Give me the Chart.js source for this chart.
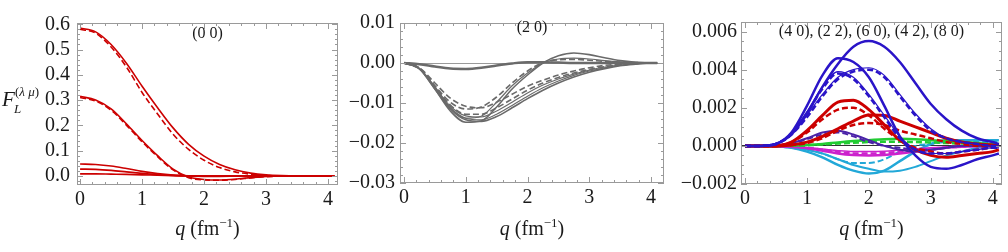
<!DOCTYPE html>
<html>
<head>
<meta charset="utf-8">
<script src="https://cdn.jsdelivr.net/npm/chart.js@4"></script>
<style>
  html, body { margin: 0; padding: 0; background: #fff; }
  #wrap { position: relative; width: 1008px; height: 252px; }
  canvas { position: absolute; top: 0; }
</style>
</head>
<body>
<div id="wrap">
  <canvas id="c1" width="342" height="252" style="left:0px"></canvas>
  <canvas id="c2" width="326" height="252" style="left:342px"></canvas>
  <canvas id="c3" width="340" height="252" style="left:668px"></canvas>
</div>
<script>
// momentum transfer q (fm^-1), shared by every curve
const qs = [0, 0.25, 0.5, 0.75, 1, 1.25, 1.5, 1.75, 2, 2.25, 2.5, 2.75, 3, 3.25, 3.5, 3.75, 4, 4.1];

const xTicks = [0, 1, 2, 3, 4];
const yTicks1 = [0, 0.1, 0.2, 0.3, 0.4, 0.5, 0.6];
const yTicks2 = [-0.03, -0.02, -0.01, 0, 0.01];
const yTicks3 = [-0.002, 0, 0.002, 0.004, 0.006];

// (0 0) panel
const p1Solid0 = [0.585, 0.570, 0.520, 0.445, 0.355, 0.270, 0.190, 0.125, 0.078, 0.045, 0.024, 0.011, 0.004, 0.001, 0, 0, 0, 0];
const p1Dash0  = [0.580, 0.565, 0.510, 0.430, 0.330, 0.245, 0.165, 0.105, 0.062, 0.033, 0.016, 0.007, 0.002, 0, 0, 0, 0, 0];
const p1Solid1 = [0.315, 0.300, 0.265, 0.205, 0.140, 0.080, 0.027, -0.004, -0.014, -0.016, -0.013, -0.007, -0.002, 0, 0, 0, 0, 0];
const p1Dash1  = [0.310, 0.296, 0.260, 0.200, 0.135, 0.076, 0.024, -0.007, -0.016, -0.017, -0.014, -0.008, -0.003, -0.001, 0, 0, 0, 0];
const p1Small0 = [0.047, 0.045, 0.039, 0.029, 0.018, 0.009, 0.003, 0, -0.002, -0.002, -0.001, 0, 0, 0, 0, 0, 0, 0];
const p1Small1 = [0.027, 0.026, 0.022, 0.016, 0.010, 0.005, 0.002, 0, -0.001, -0.001, 0, 0, 0, 0, 0, 0, 0, 0];
const p1Small2 = [0.008, 0.008, 0.007, 0.006, 0.004, 0.003, 0.001, 0, 0, 0, 0, 0, 0, 0, 0, 0, 0, 0];

// (2 0) panel
const p2Flat     = [0, -0.0003, -0.0009, -0.0014, -0.0015, -0.0012, -0.0006, -0.0001, 0.0002, 0.0002, 0.0001, 0, 0, 0, 0, 0, 0, 0];
const p2FastA    = [0, -0.0015, -0.0065, -0.0120, -0.0148, -0.0145, -0.0110, -0.0065, -0.0030, 0.0000, 0.0018, 0.0025, 0.0021, 0.0013, 0.0006, 0.0002, 0, 0];
const p2FastB    = [0, -0.0014, -0.0060, -0.0113, -0.0138, -0.0133, -0.0098, -0.0057, -0.0025, 0.0000, 0.0010, 0.0012, 0.0010, 0.0006, 0.0003, 0.0001, 0, 0];
const p2FastDash = [0, -0.0013, -0.0057, -0.0098, -0.0115, -0.0110, -0.0085, -0.0050, -0.0020, 0.0001, 0.0008, 0.0009, 0.0007, 0.0004, 0.0002, 0.0001, 0, 0];
const p2SlowDashA = [0, -0.0012, -0.0050, -0.0088, -0.0108, -0.0112, -0.0098, -0.0078, -0.0058, -0.0043, -0.0030, -0.0020, -0.0012, -0.0006, -0.0003, -0.0001, 0, 0];
const p2SlowDashB = [0, -0.0013, -0.0058, -0.0105, -0.0128, -0.0128, -0.0112, -0.0090, -0.0068, -0.0050, -0.0036, -0.0025, -0.0016, -0.0009, -0.0004, -0.0001, 0, 0];
const p2SlowA    = [0, -0.0013, -0.0060, -0.0108, -0.0132, -0.0135, -0.0120, -0.0098, -0.0075, -0.0055, -0.0040, -0.0028, -0.0018, -0.0010, -0.0005, -0.0002, 0, 0];
const p2SlowB    = [0, -0.0014, -0.0062, -0.0112, -0.0138, -0.0142, -0.0128, -0.0106, -0.0083, -0.0062, -0.0045, -0.0031, -0.0020, -0.0012, -0.0006, -0.0002, 0, 0];
const p2SlowC    = [0, -0.0015, -0.0065, -0.0115, -0.0142, -0.0146, -0.0134, -0.0112, -0.0089, -0.0068, -0.0050, -0.0035, -0.0023, -0.0014, -0.0007, -0.0003, 0, 0];

// (4 0), (2 2), (6 0), (4 2), (8 0) panel
const p3BlueBig   = [0, 0, 0.0001, 0.0006, 0.0017, 0.0031, 0.0043, 0.0052, 0.0055, 0.0052, 0.0044, 0.0033, 0.0022, 0.0014, 0.0008, 0.0004, 0.0002, 0.0001];
const p3BlueMid   = [0, 0, 0.0001, 0.0007, 0.0021, 0.0037, 0.0046, 0.0044, 0.0036, 0.0021, 0.0005, -0.0005, -0.0011, -0.0012, -0.0010, -0.0007, -0.0005, -0.0004];
const p3BlueDash1 = [0, 0, 0.0001, 0.0006, 0.0015, 0.0026, 0.0035, 0.0039, 0.0040, 0.0036, 0.0026, 0.0016, 0.0008, 0.0004, 0.0002, 0.0001, 0, 0];
const p3BlueThin1 = [0, 0, 0.0001, 0.0006, 0.0016, 0.0027, 0.0036, 0.0040, 0.0041, 0.0037, 0.0027, 0.0017, 0.0009, 0.0004, 0.0002, 0.0001, 0, 0];
const p3BlueDash2 = [0, 0, 0.0001, 0.0006, 0.0017, 0.0030, 0.0038, 0.0035, 0.0026, 0.0015, 0.0004, -0.0002, -0.0004, -0.0004, -0.0003, -0.0002, -0.0001, -0.0001];
const p3BlueThin2 = [0, 0, 0.0001, 0.0007, 0.0018, 0.0031, 0.0039, 0.0036, 0.0027, 0.0016, 0.0005, -0.0002, -0.0004, -0.0004, -0.0003, -0.0002, -0.0001, -0.0001];
const p3Red1      = [0, 0, 0, 0.0002, 0.0008, 0.0016, 0.0023, 0.0024, 0.0019, 0.0011, 0.0003, -0.0002, -0.0005, -0.0006, -0.0005, -0.0004, -0.0003, -0.0002];
const p3Red1Dash  = [0, 0, 0, 0.0002, 0.0007, 0.0014, 0.0019, 0.0020, 0.0016, 0.0009, 0.0003, -0.0001, -0.0003, -0.0004, -0.0003, -0.0002, -0.0001, -0.0001];
const p3Red2      = [0, 0, 0, 0.00005, 0.0002, 0.0005, 0.0009, 0.0013, 0.00162, 0.0016, 0.0013, 0.0010, 0.0007, 0.0004, 0.0002, 0.0001, 0.00005, 0];
const p3Red2Dash  = [0, 0, 0, 0.00004, 0.00015, 0.0004, 0.0008, 0.0011, 0.0012, 0.0011, 0.0008, 0.0006, 0.0004, 0.0002, 0.0001, 0, 0, 0];
const p3Violet     = [0, 0, 0.00002, 0.00015, 0.0004, 0.0007, 0.0008, 0.0006, 0.0003, 0, -0.0002, -0.0003, -0.0002, -0.0001, 0, 0, 0, 0];
const p3VioletDash = [0, 0, 0.00002, 0.00012, 0.00035, 0.0006, 0.0007, 0.0005, 0.0002, 0, -0.0001, -0.0002, -0.0002, -0.0001, 0, 0, 0, 0];
const p3Green     = [0, 0, 0, 0.00002, 0.00005, 0.0001, 0.00018, 0.00025, 0.0003, 0.00035, 0.00037, 0.00035, 0.0003, 0.00025, 0.0002, 0.00015, 0.0001, 0.0001];
const p3GreenDash = [0, 0, 0, 0.00001, 0.00003, 0.00007, 0.00012, 0.00016, 0.0002, 0.00022, 0.00022, 0.0002, 0.00018, 0.00015, 0.00012, 0.0001, 0.00008, 0.00008];
const p3Magenta     = [0, 0, 0, -0.00005, -0.00012, -0.00025, -0.0004, -0.00048, -0.0005, -0.00048, -0.0004, -0.0003, -0.0002, -0.0001, -0.00005, 0, 0, 0];
const p3MagentaDash = [0, 0, 0, -0.00004, -0.0001, -0.0002, -0.00032, -0.0004, -0.0004, -0.00038, -0.0003, -0.00022, -0.00015, -0.00008, -0.00004, 0, 0, 0];
const p3Magenta2    = [0, 0, 0, -0.00003, -0.00008, -0.00016, -0.00025, -0.0003, -0.0003, -0.00028, -0.00022, -0.00016, -0.0001, -0.00005, 0, 0, 0, 0];
const p3Cyan1    = [0, 0, -0.00003, -0.0001, -0.0003, -0.0006, -0.0010, -0.0013, -0.00145, -0.0013, -0.0008, -0.0003, 0.0001, 0.0003, 0.0003, 0.0003, 0.0003, 0.0003];
const p3Cyan2    = [0, 0, -0.00003, -0.0001, -0.0002, -0.0004, -0.0007, -0.0010, -0.0012, -0.00135, -0.0013, -0.0011, -0.0008, -0.0005, -0.0003, -0.0001, 0, 0.0001];
const p3CyanDash = [0, 0, -0.00002, -0.0001, -0.0002, -0.0004, -0.0007, -0.0009, -0.0009, -0.0007, -0.0003, 0, 0.0001, 0.0002, 0.0002, 0.0002, 0.0002, 0.0002];

const SERIF = '"Liberation Serif", "Times New Roman", serif';
const RED = '#cc0000', GRAY = '#6a6a6a', BLUE = '#2a14c8', VIOLET = '#4a22a8',
      GREEN = '#22cc33', MAGENTA = '#cc22cc', CYAN = '#22a8d8';

function line(values, color, width, dashed) {
  return {
    data: qs.map((q, i) => ({ x: q, y: values[i] })),
    borderColor: color,
    borderWidth: width,
    borderDash: dashed ? [6, 3] : [],
    pointRadius: 0,
    cubicInterpolationMode: 'monotone',
    fill: false
  };
}

// frame with inward major/minor ticks on all four sides (Mathematica style)
const frameTicks = {
  id: 'frameTicks',
  afterDraw(chart, args, o) {
    const { ctx, chartArea: a, scales: { x, y } } = chart;
    ctx.save();
    ctx.strokeStyle = '#9a9a9a';
    ctx.lineWidth = 1;
    ctx.strokeRect(a.left + 0.5, a.top + 0.5, a.right - a.left - 1, a.bottom - a.top - 1);
    const mark = (scale, step, len) => {
      const i0 = Math.ceil(scale.min / step - 1e-6), i1 = Math.floor(scale.max / step + 1e-6);
      ctx.beginPath();
      for (let i = i0; i <= i1; i++) {
        const p = Math.round(scale.getPixelForValue(i * step)) + 0.5;
        if (scale.isHorizontal()) {
          ctx.moveTo(p, a.bottom); ctx.lineTo(p, a.bottom - len);
          ctx.moveTo(p, a.top); ctx.lineTo(p, a.top + len);
        } else {
          ctx.moveTo(a.left, p); ctx.lineTo(a.left + len, p);
          ctx.moveTo(a.right, p); ctx.lineTo(a.right - len, p);
        }
      }
      ctx.stroke();
    };
    mark(x, o.xMinor, 3); mark(x, o.xMajor, 6);
    mark(y, o.yMinor, 3); mark(y, o.yMajor, 6);
    ctx.restore();
  }
};

// panel tag, x axis title and (first panel) the y axis symbol
const panelText = {
  id: 'panelText',
  afterDraw(chart, args, o) {
    const { ctx, chartArea: a } = chart;
    const cx = (a.left + a.right) / 2;
    ctx.save();
    ctx.fillStyle = '#1a1a1a';
    ctx.textBaseline = 'alphabetic';
    ctx.textAlign = 'center';
    ctx.font = '16px ' + SERIF;
    ctx.fillText(o.tag, cx, o.tagY);

    // q (fm^-1)
    ctx.textAlign = 'left';
    const parts = [
      { t: 'q', f: 'italic 20px ' + SERIF, dy: 0 },
      { t: ' (fm', f: '20px ' + SERIF, dy: 0 },
      { t: '\u22121', f: '13px ' + SERIF, dy: -8 },
      { t: ')', f: '20px ' + SERIF, dy: 0 }
    ];
    let w = 0;
    parts.forEach(p => { ctx.font = p.f; p.w = ctx.measureText(p.t).width; w += p.w; });
    let px = cx - w / 2;
    parts.forEach(p => { ctx.font = p.f; ctx.fillText(p.t, px, 235 + p.dy); px += p.w; });

    if (o.yLabel) {
      ctx.font = 'italic 21px ' + SERIF;
      ctx.fillText('F', 2, 106);
      ctx.font = 'italic 13px ' + SERIF;
      ctx.fillText('L', 14, 113);
      let sx = 15;
      [['(', ''], ['\u03bb', 'italic '], [' ', ''], ['\u03bc', 'italic '], [')', '']].forEach(([t, s]) => {
        ctx.font = s + '13px ' + SERIF;
        ctx.fillText(t, sx, 96);
        sx += ctx.measureText(t).width;
      });
    }
    ctx.restore();
  }
};

function makeChart(id, cfg) {
  return new Chart(document.getElementById(id), {
    type: 'line',
    data: { datasets: cfg.datasets },
    options: {
      responsive: false,
      animation: false,
      layout: { padding: { top: cfg.top, right: cfg.right, left: 0, bottom: 0 } },
      plugins: {
        legend: { display: false },
        tooltip: { enabled: false },
        frameTicks: cfg.frame,
        panelText: { tag: cfg.tag, tagY: cfg.tagY, yLabel: cfg.yLabel }
      },
      scales: {
        x: {
          type: 'linear',
          min: cfg.xMin, max: cfg.xMax,
          afterBuildTicks: s => { s.ticks = xTicks.map(v => ({ value: v })); },
          afterFit: s => { s.height = 252 - cfg.bottom; },
          grid: { display: false, drawTicks: false },
          border: { display: false },
          ticks: { padding: 3, color: '#1a1a1a', font: { family: SERIF, size: 20 }, maxRotation: 0,
                   callback: v => String(v) }
        },
        y: {
          type: 'linear',
          min: cfg.yMin, max: cfg.yMax,
          afterBuildTicks: s => { s.ticks = cfg.yTicks.map(v => ({ value: v })); },
          afterFit: s => { s.width = cfg.left; },
          grid: { drawTicks: false, lineWidth: 1,
                  color: c => (cfg.zeroLine && c.tick && Math.abs(c.tick.value) < 1e-12) ? cfg.zeroLine : 'rgba(0,0,0,0)' },
          border: { display: false },
          ticks: { padding: cfg.ypad, color: '#1a1a1a', font: { family: SERIF, size: 20 },
                   callback: v => v.toFixed(cfg.digits).replace('-', '\u2212') }
        }
      }
    },
    plugins: [frameTicks, panelText]
  });
}

makeChart('c1', {
  left: 77, right: 4, top: 23, bottom: 185,
  xMin: -0.05, xMax: 4.16, yMin: -0.036, yMax: 0.605,
  yTicks: yTicks1, digits: 1, ypad: 7,
  tag: '(0 0)', tagY: 38, yLabel: true,
  frame: { xMinor: 0.2, xMajor: 1, yMinor: 0.02, yMajor: 0.1 },
  datasets: [
    line(p1Solid0, RED, 1.6, false),
    line(p1Dash0, RED, 1.6, true),
    line(p1Solid1, RED, 1.6, false),
    line(p1Dash1, RED, 1.6, true),
    line(p1Small0, RED, 1.6, false),
    line(p1Small1, RED, 1.6, false),
    line(p1Small2, RED, 1.6, false)
  ]
});

makeChart('c2', {
  left: 58, right: 4, top: 23, bottom: 183,
  xMin: -0.065, xMax: 4.21, yMin: -0.03, yMax: 0.01,
  yTicks: yTicks2, digits: 2, ypad: 5, zeroLine: '#9a9a9a',
  tag: '(2 0)', tagY: 32,
  frame: { xMinor: 0.2, xMajor: 1, yMinor: 0.002, yMajor: 0.01 },
  datasets: [
    line(p2Flat, GRAY, 2.5, false),
    line(p2FastA, GRAY, 1.6, false),
    line(p2FastB, GRAY, 1.2, false),
    line(p2FastDash, GRAY, 1.6, true),
    line(p2SlowDashA, GRAY, 1.6, true),
    line(p2SlowDashB, GRAY, 1.6, true),
    line(p2SlowA, GRAY, 1.2, false),
    line(p2SlowB, GRAY, 1.2, false),
    line(p2SlowC, GRAY, 1.6, false)
  ]
});

makeChart('c3', {
  left: 73, right: 6, top: 22, bottom: 184,
  xMin: -0.065, xMax: 4.15, yMin: -0.002, yMax: 0.0065,
  yTicks: yTicks3, digits: 3, ypad: 4, zeroLine: '#333333',
  tag: '(4 0), (2 2), (6 0), (4 2), (8 0)', tagY: 36,
  frame: { xMinor: 0.2, xMajor: 1, yMinor: 0.0005, yMajor: 0.002 },
  datasets: [
    line(p3BlueBig, BLUE, 2.5, false),
    line(p3BlueMid, BLUE, 2.5, false),
    line(p3BlueDash1, BLUE, 2.5, true),
    line(p3BlueThin1, BLUE, 1.2, false),
    line(p3BlueDash2, BLUE, 2.5, true),
    line(p3BlueThin2, BLUE, 1.2, false),
    line(p3Red1, RED, 3, false),
    line(p3Red1Dash, RED, 2.5, true),
    line(p3Red2, RED, 3, false),
    line(p3Red2Dash, RED, 2.5, true),
    line(p3Violet, VIOLET, 2, false),
    line(p3VioletDash, VIOLET, 2, true),
    line(p3Green, GREEN, 2.5, false),
    line(p3GreenDash, GREEN, 2.5, true),
    line(p3Magenta, MAGENTA, 2.5, false),
    line(p3MagentaDash, MAGENTA, 2.5, true),
    line(p3Magenta2, MAGENTA, 1.5, false),
    line(p3Cyan1, CYAN, 2.5, false),
    line(p3Cyan2, CYAN, 2, false),
    line(p3CyanDash, CYAN, 2, true)
  ]
});
</script>
</body>
</html>
